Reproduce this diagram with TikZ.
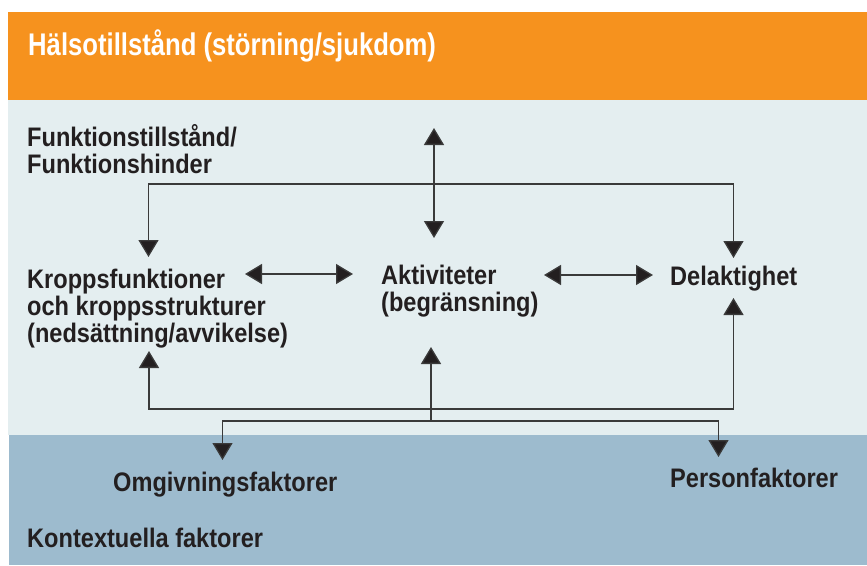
\documentclass[tikz,border=0pt]{standalone}
\usepackage{fontspec}
\newfontfamily\dfont{Liberation Sans}[FakeStretch=0.88]
\newfontfamily\tfont{Liberation Sans}[FakeStretch=0.82]
\usetikzlibrary{arrows.meta}
\definecolor{orangeband}{HTML}{F6921E}
\definecolor{lightband}{HTML}{E4EEF0}
\definecolor{darkband}{HTML}{9DBBCE}
\definecolor{txt}{HTML}{231F20}
\definecolor{ln}{HTML}{3A3A3A}
\tikzset{
  lbl/.style={anchor=base west, inner sep=0pt, text=txt, align=left,
    font=\dfont\bfseries\fontsize{26.8}{27}\selectfont},
  ttl/.style={anchor=base west, inner sep=0pt, text=white,
    font=\tfont\bfseries\fontsize{31.3}{32}\selectfont},
  conn/.style={draw=ln, line width=1.3pt,
    arrows={Triangle[width=20pt,length=17pt,fill=txt]-Triangle[width=20pt,length=17pt,fill=txt]}},
  conn1/.style={draw=ln, line width=1.3pt,
    arrows={-Triangle[width=20pt,length=17pt,fill=txt]}}
}
\begin{document}
\begin{tikzpicture}[x=1pt,y=-1pt]
\useasboundingbox (0,0) rectangle (867,565);
\fill[white] (0,0) rectangle (867,565);
\fill[orangeband] (8,12) rectangle (867,100);
\fill[lightband] (8,100) rectangle (867,435);
\fill[darkband] (9,435) rectangle (867,565);

\node[ttl] (title) at (28,55) {Hälsotillstånd (störning/sjukdom)};
\node[lbl] (funk) at (27,173) {Funktionstillstånd/\\Funktionshinder};
\node[lbl] (kropp) at (27,342) {Kroppsfunktioner\\och kroppsstrukturer\\(nedsättning/avvikelse)};
\node[lbl] (akt) at (381,311) {Aktiviteter\\(begränsning)};
\node[lbl] (del) at (670,285) {Delaktighet};
\node[lbl] (omg) at (113,491) {Omgivningsfaktorer};
\node[lbl] (pers) at (670,487) {Personfaktorer};
\node[lbl] (kont) at (27,547) {Kontextuella faktorer};

% coordinates
\coordinate (kTop) at (148.5,257);
\coordinate (dTop) at (733.5,258);
\coordinate (hTop) at (434,128);
\coordinate (hBot) at (434,238);
\coordinate (kR) at (245,274);
\coordinate (aL) at (353,274);
\coordinate (aR) at (544,275);
\coordinate (dL) at (653,275);
\coordinate (kBot) at (149,351);
\coordinate (dBot) at (733.5,298);
\coordinate (aBot) at (431,347);
\coordinate (oTip) at (222.5,460);
\coordinate (pTip) at (718.5,457);

\draw[conn] (kTop) -- (148.5,184) -- (733.5,184) -- (dTop);
\draw[conn] (hTop) -- (hBot);
\draw[conn] (kR) -- (aL);
\draw[conn] (aR) -- (dL);
\draw[conn] (kBot) -- (149,409) -- (733.5,409) -- (dBot);
\draw[conn1] (431,421) -- (aBot);
\draw[conn] (oTip) -- (222.5,421) -- (718.5,421) -- (pTip);
\end{tikzpicture}
\end{document}
